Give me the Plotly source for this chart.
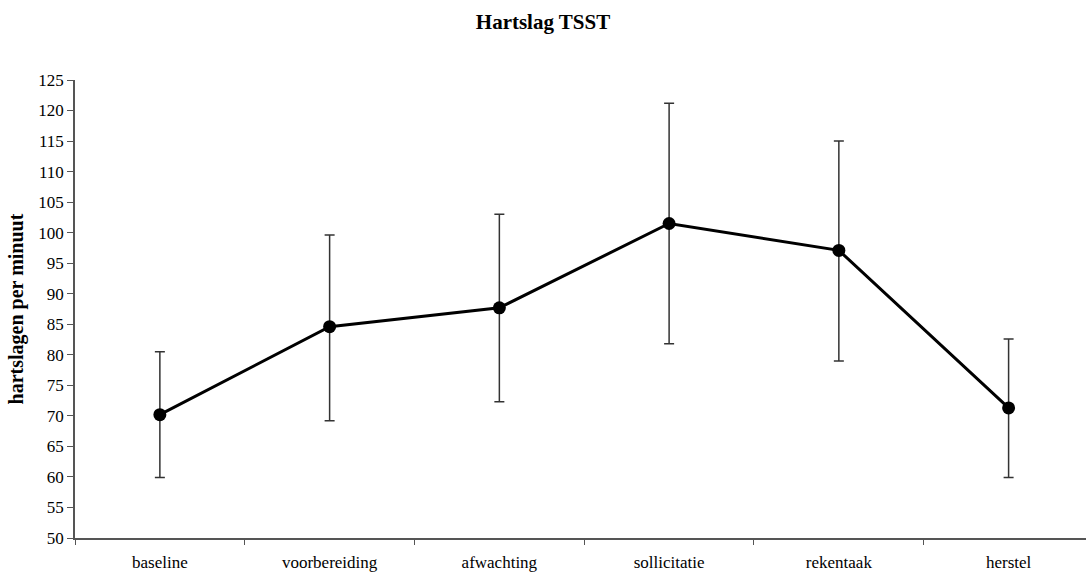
import plotly.graph_objects as go

categories = ["baseline", "voorbereiding", "afwachting", "sollicitatie", "rekentaak", "herstel"]
means = [70.2, 84.6, 87.7, 101.5, 97.1, 71.3]
upper = [80.5, 99.6, 103.0, 121.2, 115.0, 82.6]
lower = [59.9, 69.2, 72.3, 81.8, 79.0, 59.9]

err_plus = [u - m for u, m in zip(upper, means)]
err_minus = [m - l for m, l in zip(means, lower)]

FONT = "Liberation Serif, Times New Roman, serif"

fig = go.Figure()
fig.add_trace(go.Scatter(
    x=categories, y=means, mode="lines+markers",
    line=dict(color="black", width=3),
    marker=dict(color="black", size=13),
    error_y=dict(type="data", symmetric=False, array=err_plus, arrayminus=err_minus,
                 color="#333333", thickness=1.5, width=5),
    showlegend=False,
))

fig.update_layout(
    width=1086, height=573,
    paper_bgcolor="white", plot_bgcolor="white",
    margin=dict(l=75, r=0, t=80, b=35),
    font=dict(family=FONT, color="black", size=17),
    title=dict(text="<b>Hartslag TSST</b>", x=0.5, xanchor="center", y=0.963, yanchor="middle",
               font=dict(family=FONT, size=21, color="black")),
)
fig.update_xaxes(
    type="category", range=[-0.5, 5.456], tickson="boundaries",
    ticks="outside", ticklen=5, tickwidth=1, tickcolor="#555555",
    showline=True, linecolor="#555555", linewidth=1.5,
    showgrid=False, zeroline=False,
    tickfont=dict(family=FONT, size=17, color="black"),
    ticklabelstandoff=8,
)
fig.update_yaxes(
    range=[50, 125], tick0=50, dtick=5,
    ticks="outside", ticklen=6, tickwidth=1, tickcolor="#555555",
    showline=True, linecolor="#555555", linewidth=1.5,
    showgrid=False, zeroline=False,
    tickfont=dict(family=FONT, size=17, color="black"),
    title=dict(text="<b>hartslagen per minuut</b>", font=dict(family=FONT, size=20, color="black"), standoff=9),
)

fig.write_html("out.html", config={"displayModeBar": False},
               post_script="document.body.style.margin='0';document.body.style.padding='0';")
